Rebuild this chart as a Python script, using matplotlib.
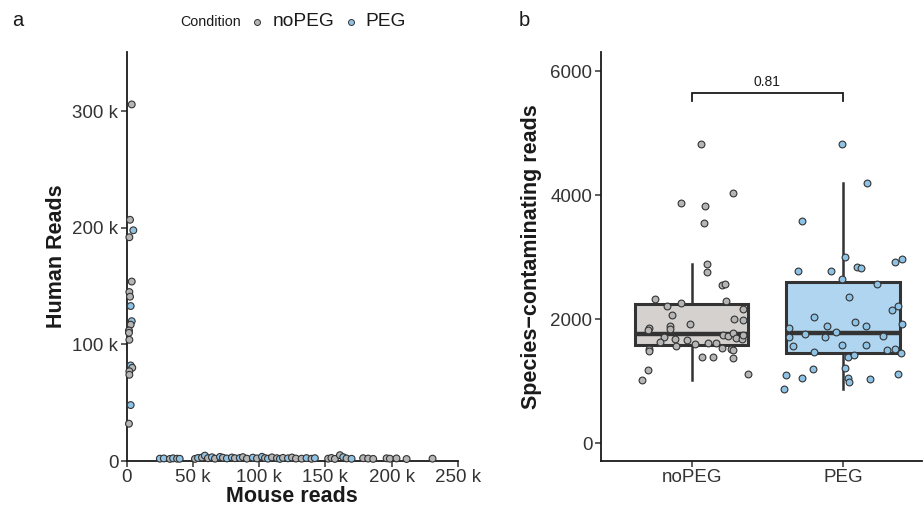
import matplotlib
matplotlib.use("Agg")
import matplotlib.pyplot as plt
from matplotlib.lines import Line2D
from matplotlib.ticker import FuncFormatter, FixedLocator

plt.rcParams["font.family"] = ["Liberation Sans", "DejaVu Sans"]

# ---------------- data ----------------
# Panel a: per-sample mouse / human read counts (thousands), human samples
human_mouse_k = [3.8, 2.5, 5.0, 2.0, 3.8, 2.0, 2.5, 3.0, 3.8, 3.0, 1.7, 1.7,
                 2.0, 3.0, 4.2, 2.0, 2.0, 3.0, 1.7]
human_human_k = [306, 207, 198, 192, 154, 145, 141, 133, 120, 117, 112, 110,
                 104, 82, 80, 77, 74, 48, 32]
human_cond = ["noPEG", "noPEG", "PEG", "noPEG", "noPEG", "noPEG", "noPEG", "PEG",
              "PEG", "noPEG", "noPEG", "noPEG", "noPEG", "PEG", "noPEG", "noPEG",
              "noPEG", "PEG", "noPEG"]

# mouse samples
mouse_mouse_k = [25.0, 28.0, 32.6, 35.0, 38.0, 40.0, 51.5, 53.8, 56.8, 59.0,
                 61.3, 64.3, 66.6, 70.4, 72.6, 75.6, 79.4, 81.6, 85.4, 87.7,
                 90.7, 95.2, 98.3, 102.1, 104.3, 106.6, 109.6, 113.4, 115.6,
                 117.9, 121.7, 124.7, 127.7, 132.0, 135.7, 139.5, 142.0, 152.0,
                 154.5, 157.1, 160.9, 163.4, 165.9, 169.7, 178.4, 182.2, 186.0,
                 196.1, 198.6, 203.6, 211.2, 230.8]
mouse_human_k = [2.0, 2.2, 1.8, 2.3, 2.0, 1.9, 1.8, 2.6, 3.0, 4.6, 2.4, 3.2,
                 2.0, 3.5, 2.8, 2.2, 3.0, 2.4, 2.6, 3.3, 2.0, 2.9, 2.2, 3.6,
                 2.5, 2.0, 3.1, 2.4, 1.8, 2.7, 2.3, 3.0, 2.1, 2.0, 2.5, 1.9,
                 2.4, 2.0, 2.6, 1.8, 5.0, 3.3, 2.2, 1.9, 2.4, 2.1, 1.8, 2.3,
                 2.0, 2.2, 1.7, 2.0]
mouse_cond = ["PEG", "PEG", "noPEG", "PEG", "noPEG", "PEG", "noPEG", "PEG",
              "noPEG", "PEG", "noPEG", "PEG", "noPEG", "PEG", "noPEG", "PEG",
              "PEG", "noPEG", "PEG", "noPEG", "noPEG", "PEG", "noPEG", "PEG",
              "noPEG", "PEG", "noPEG", "noPEG", "PEG", "noPEG", "PEG", "noPEG",
              "noPEG", "noPEG", "PEG", "noPEG", "PEG", "noPEG", "noPEG", "noPEG",
              "noPEG", "PEG", "noPEG", "PEG", "noPEG", "noPEG", "noPEG", "noPEG",
              "noPEG", "noPEG", "noPEG", "noPEG"]

# Panel b: species-contaminating reads per sample, with jitter offsets
conditions = ["noPEG", "PEG"]
nopeg_reads = [4833, 4037, 3883, 3834, 3553, 2888, 2765, 2550, 2571, 2330, 2292,
               2217, 2255, 2067, 2007, 1917, 1890, 1841, 1862, 1825, 1745, 1729,
               1777, 1701, 1708, 1680, 1637, 1659, 1572, 1595, 1611, 1611, 1540,
               1514, 1503, 1524, 1487, 1395, 1385, 1374, 1176, 1020, 2168, 1986,
               1685, 1745, 1116]
nopeg_jitter = [0.06, 0.27, -0.07, 0.09, 0.08, 0.10, 0.10, 0.20, 0.22, -0.24, 0.23,
                -0.16, -0.07, -0.13, 0.28, -0.01, -0.14, -0.14, -0.28, -0.29, 0.21,
                0.24, 0.27, 0.29, -0.18, -0.11, -0.21, -0.03, -0.10, 0.02, 0.11,
                0.16, 0.20, 0.26, 0.27, -0.28, -0.28, 0.07, 0.14, 0.27, -0.29,
                -0.33, 0.34, 0.34, 0.33, 0.34, 0.37]
peg_reads = [4826, 4193, 3581, 3006, 2974, 2930, 2781, 2771, 2845, 2829, 2652,
             2571, 2352, 2217, 2147, 2035, 1959, 1927, 1890, 1895, 1853, 1793,
             1756, 1708, 1708, 1729, 1567, 1579, 1579, 1503, 1514, 1460, 1466,
             1395, 1422, 1208, 1197, 1100, 1052, 1047, 982, 1041, 1116, 870]
peg_jitter = [-0.01, 0.16, -0.27, 0.01, 0.39, 0.34, -0.30, -0.08, 0.09, 0.12, -0.01,
              0.22, 0.04, 0.36, 0.32, -0.19, 0.08, 0.39, -0.11, 0.15, -0.36, -0.05,
              -0.25, -0.36, -0.12, 0.26, -0.33, -0.01, 0.15, 0.29, 0.34, 0.38,
              -0.19, 0.03, 0.07, 0.01, -0.20, -0.38, -0.27, 0.03, 0.04, 0.18,
              0.36, -0.39]

# box summary statistics (whisker low, Q1, median, Q3, whisker high)
box_whislo = [1020, 870]
box_q1 = [1584, 1450]
box_med = [1756, 1777]
box_q3 = [2239, 2594]
box_whishi = [2884, 4198]

p_value_label = "0.81"

# ---------------- style ----------------
pt_fill = {"noPEG": "#b5b5b5", "PEG": "#8fc3e6"}
box_fill = ["#d4d1cf", "#b0d5f0"]
edge = "#333333"
ink = "#1a1a1a"

W, H = 923, 511
fig = plt.figure(figsize=(W / 100, H / 100), dpi=100)


def fx(px):
    return px / W


def fy(py):
    return 1 - py / H


def style_axes(ax):
    for s in ("top", "right"):
        ax.spines[s].set_visible(False)
    for s in ("left", "bottom"):
        ax.spines[s].set_linewidth(1.3)
        ax.spines[s].set_color(ink)
    ax.tick_params(axis="both", direction="out", length=4, width=1.1,
                   color="#333333", labelsize=13.5, labelcolor="#333333", pad=2)


# ---------------- panel a ----------------
axa = fig.add_axes([fx(126.7), fy(461), fx(458 - 126.7), (461 - 52) / H])
style_axes(axa)
for xs, ys, cs in ((human_mouse_k, human_human_k, human_cond),
                   (mouse_mouse_k, mouse_human_k, mouse_cond)):
    axa.scatter([v * 1000 for v in xs], [v * 1000 for v in ys],
                c=[pt_fill[c] for c in cs], edgecolors=edge, linewidths=0.8,
                s=24, zorder=3, clip_on=False)
axa.set_xlim(0, 250000)
axa.set_ylim(0, 351000)
axa.xaxis.set_major_locator(FixedLocator([0, 50000, 100000, 150000, 200000, 250000]))
axa.yaxis.set_major_locator(FixedLocator([0, 100000, 200000, 300000]))
kfmt = FuncFormatter(lambda v, _: "0" if v == 0 else f"{int(round(v / 1000))} k")
axa.xaxis.set_major_formatter(kfmt)
axa.yaxis.set_major_formatter(kfmt)
axa.set_xlabel("Mouse reads", fontsize=15.5, fontweight="bold", color=ink, labelpad=0)
axa.set_ylabel("Human Reads", fontsize=15.5, fontweight="bold", color=ink, labelpad=4)

# ---------------- panel b ----------------
axb = fig.add_axes([fx(600.7), fy(461), fx(922 - 600.7), (461 - 52) / H])
style_axes(axb)
stats = []
for i in range(len(conditions)):
    stats.append({"whislo": box_whislo[i], "q1": box_q1[i], "med": box_med[i],
                  "q3": box_q3[i], "whishi": box_whishi[i], "fliers": []})
bp = axb.bxp(stats, positions=[1, 2], widths=0.75, patch_artist=True,
             showfliers=False, showcaps=False,
             boxprops=dict(linewidth=2.2, edgecolor=edge),
             medianprops=dict(linewidth=3.2, color=edge),
             whiskerprops=dict(linewidth=1.8, color=edge))
for patch, col in zip(bp["boxes"], box_fill):
    patch.set_facecolor(col)
for i, (reads, jit) in enumerate(((nopeg_reads, nopeg_jitter), (peg_reads, peg_jitter))):
    axb.scatter([i + 1 + j for j in jit], reads, c=pt_fill[conditions[i]],
                edgecolors=edge, linewidths=0.8, s=24, zorder=4)
axb.set_xlim(0.4, 2.52)
axb.set_ylim(-285, 6310)
axb.set_xticks([1, 2])
axb.set_xticklabels(conditions)
axb.set_yticks([0, 2000, 4000, 6000])
axb.set_ylabel("Species\u2212contaminating reads", fontsize=15.5, fontweight="bold",
               color=ink, labelpad=6)

# significance bracket
br_y, br_tick = 5643, 5515
axb.plot([1, 1, 2, 2], [br_tick, br_y, br_y, br_tick], color=ink, lw=1.3,
         solid_joinstyle="miter")
axb.text(1.5, br_y + 70, p_value_label, ha="center", va="bottom", fontsize=10,
         color=ink)

# ---------------- legend & panel tags ----------------
leg_y = fy(21.7)
fig.text(fx(180), leg_y, "Condition", fontsize=10.3, color=ink, va="center", ha="left")
for xpx, cond, tx in ((257.3, "noPEG", 273), (351, "PEG", 365)):
    fig.add_artist(Line2D([fx(xpx)], [leg_y], marker="o", markersize=4.3,
                          markerfacecolor=pt_fill[cond], markeredgecolor=edge,
                          markeredgewidth=0.7, linestyle="none",
                          transform=fig.transFigure))
    fig.text(fx(tx), leg_y, cond, fontsize=13.8, color=ink, va="center", ha="left")

fig.text(fx(12), fy(20), "a", fontsize=14.5, color=ink, va="center", ha="left")
fig.text(fx(519), fy(20), "b", fontsize=14.5, color=ink, va="center", ha="left")

fig.savefig("out.png", dpi=100)
